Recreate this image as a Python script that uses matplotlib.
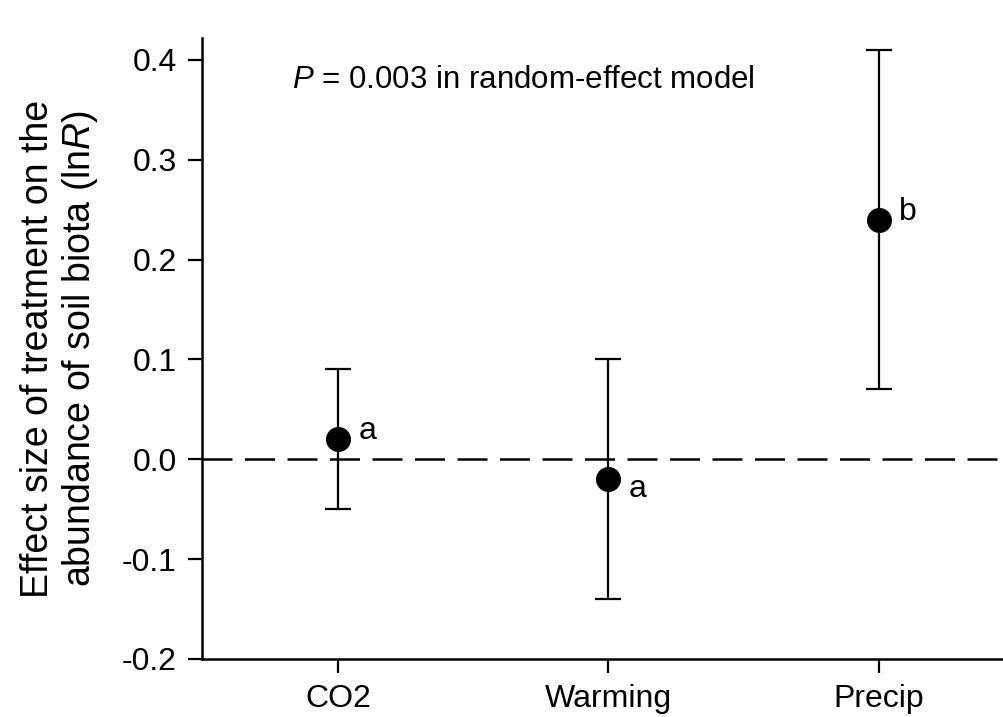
import numpy as np
import matplotlib
matplotlib.use("Agg")
import matplotlib.pyplot as plt

plt.rcParams["font.family"] = ["Liberation Sans", "DejaVu Sans"]
plt.rcParams["mathtext.fontset"] = "custom"
plt.rcParams["mathtext.rm"] = "Liberation Sans"
plt.rcParams["mathtext.it"] = "Liberation Sans:italic"

treatments = ["CO2", "Warming", "Precip"]
effect = [0.02, -0.02, 0.24]
ci_low = [-0.05, -0.14, 0.07]
ci_high = [0.09, 0.10, 0.41]
groups = ["a", "a", "b"]
label_y = [0.028, -0.03, 0.248]

fig = plt.figure(figsize=(10.04, 7.17), dpi=100)
ax = fig.add_axes([0.201, 0.081, 0.799, 0.866])

x = np.arange(len(treatments))
yerr = [np.array(effect) - np.array(ci_low), np.array(ci_high) - np.array(effect)]
ax.errorbar(x, effect, yerr=yerr, fmt="o", color="black", ms=17,
            capsize=9.5, capthick=1.6, elinewidth=1.6, zorder=3)
ax.axhline(0, color="black", lw=1.8, dashes=(12, 5), zorder=1)

for xi, yi, g in zip(x, label_y, groups):
    ax.text(xi + 0.075, yi, g, fontsize=23, va="center", ha="left")

ax.text(-0.17, 0.38, r"$P$ = 0.003 in random-effect model", fontsize=22.5,
        va="center", ha="left")

ax.set_xlim(-0.503, 2.462)
ax.set_ylim(-0.2, 0.422)
ax.set_xticks(x)
ax.set_xticklabels(treatments)
yt = np.round(np.arange(-0.2, 0.41, 0.1), 1)
ax.set_yticks(yt)
ax.set_yticklabels([f"{v:.1f}" for v in yt])
ax.tick_params(axis="both", direction="out", length=10, width=1.6, labelsize=23, pad=8)
ax.spines["top"].set_visible(False)
ax.spines["right"].set_visible(False)
for s in ("left", "bottom"):
    ax.spines[s].set_linewidth(1.8)
ax.set_ylabel("Effect size of treatment on the\nabundance of soil biota (ln$R$)",
              fontsize=27, labelpad=16, linespacing=1.12)

fig.savefig("out.png", dpi=100)
